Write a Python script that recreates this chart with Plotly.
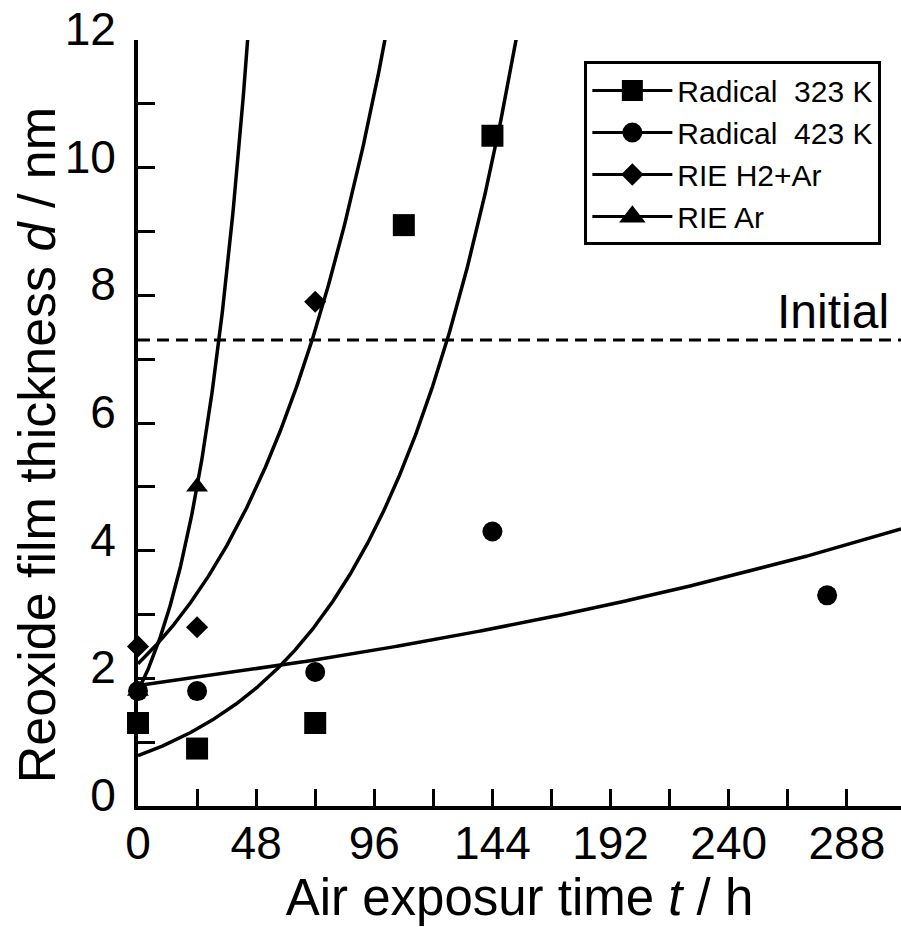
import numpy as np
import plotly.graph_objects as go

# Air exposure time (h) and reoxide film thickness (nm) per treatment
t_rad323 = [0, 24, 72, 108, 144]
d_rad323 = [1.3, 0.9, 1.3, 9.1, 10.5]

t_rad423 = [0, 24, 72, 144, 280]
d_rad423 = [1.8, 1.8, 2.1, 4.3, 3.3]

t_rie_h2ar = [0, 24, 72]
d_rie_h2ar = [2.5, 2.8, 7.9]

t_rie_ar = [0, 24]
d_rie_ar = [1.8, 5.0]

series_names = ["Radical\u00a0\u00a0323 K", "Radical\u00a0\u00a0423 K", "RIE H2+Ar", "RIE Ar"]
series_symbols = ["square", "circle", "diamond", "triangle-up"]
series_sizes = [22, 20, 17, 19]
# legend glyphs: plotly caps legend marker size, so an outline widens them
legend_sizes = [16, 16, 14, 16]
legend_outline = [5, 4, 3, 4]

initial_thickness = 7.3

X_MAX = 310
Y_MAX = 12

FONT = "Liberation Sans, Arial, sans-serif"

series = [
    (t_rad323, d_rad323),
    (t_rad423, d_rad423),
    (t_rie_h2ar, d_rie_h2ar),
    (t_rie_ar, d_rie_ar),
]

fig = go.Figure()

# Exponential trendlines d = a*exp(b*t), least squares on ln(d)
t_grid = np.linspace(0, X_MAX, 1200)
for t, d in series:
    b, ln_a = np.polyfit(np.array(t, float), np.log(np.array(d, float)), 1)
    d_fit = np.exp(ln_a) * np.exp(b * t_grid)
    keep = d_fit <= Y_MAX * 1.05
    fig.add_trace(go.Scatter(
        x=t_grid[keep], y=d_fit[keep], mode="lines",
        line=dict(color="black", width=3.5), showlegend=False, hoverinfo="skip",
    ))

# Measured points (triangles first so the shared t=0 point sits underneath)
draw_order = [3, 2, 0, 1]
for i in draw_order:
    t, d = series[i]
    fig.add_trace(go.Scatter(
        x=t, y=d, mode="markers", cliponaxis=False, showlegend=False,
        marker=dict(symbol=series_symbols[i], size=series_sizes[i], color="black",
                    line=dict(width=0)),
        name=series_names[i],
    ))

# Legend entries (line through marker)
for i in range(4):
    fig.add_trace(go.Scatter(
        x=[None], y=[None], mode="lines+markers", name=series_names[i],
        line=dict(color="black", width=3),
        marker=dict(symbol=series_symbols[i], size=legend_sizes[i], color="black",
                    line=dict(color="black", width=legend_outline[i])),
    ))

# Initial film thickness reference
fig.add_shape(type="line", xref="paper", yref="y", x0=0, x1=1,
              y0=initial_thickness, y1=initial_thickness,
              line=dict(color="black", width=3, dash="12px,7px"))
fig.add_annotation(text="Initial", xref="paper", yref="y", x=1, y=initial_thickness,
                   xanchor="right", yanchor="bottom", xshift=-10, yshift=0,
                   showarrow=False, font=dict(family=FONT, size=48, color="black"))

# Vertical axis title, centred a little below the middle of the axis
fig.add_annotation(text="Reoxide film thickness <i>d</i> / nm", textangle=-90,
                   xref="paper", yref="paper", x=-0.1324, y=0.471,
                   xanchor="center", yanchor="middle", showarrow=False,
                   font=dict(family=FONT, size=52, color="black"))

axis_common = dict(
    showline=True, linecolor="black", linewidth=4, mirror=False,
    ticks="inside", ticklen=17, tickwidth=3, tickcolor="black",
    showgrid=False, zeroline=False,
    tickfont=dict(family=FONT, size=46, color="black"),
)

fig.update_xaxes(
    range=[0, X_MAX], tick0=0, dtick=48,
    minor=dict(dtick=24, ticks="inside", ticklen=17, tickwidth=3, tickcolor="black"),
    title=dict(text="Air exposur time <i>t</i> / h",
               font=dict(family=FONT, size=51, color="black"), standoff=8),
    ticklabelstandoff=-6,
    **axis_common,
)
fig.update_yaxes(
    range=[0, Y_MAX], tick0=0, dtick=2,
    minor=dict(dtick=1, ticks="inside", ticklen=17, tickwidth=3, tickcolor="black"),
    ticklabelstandoff=9, ticklabelshift=-11,
    **axis_common,
)

fig.update_layout(
    width=901, height=927,
    margin=dict(l=138, r=0, t=40, b=121, pad=0),
    paper_bgcolor="white", plot_bgcolor="white",
    font=dict(family=FONT, color="black"),
    legend=dict(
        x=0.585, y=0.972, xanchor="left", yanchor="top",
        bgcolor="white", bordercolor="black", borderwidth=3,
        font=dict(family=FONT, size=30, color="black"),
        itemwidth=80, tracegroupgap=0,
    ),
)

fig.write_html("out.html")
